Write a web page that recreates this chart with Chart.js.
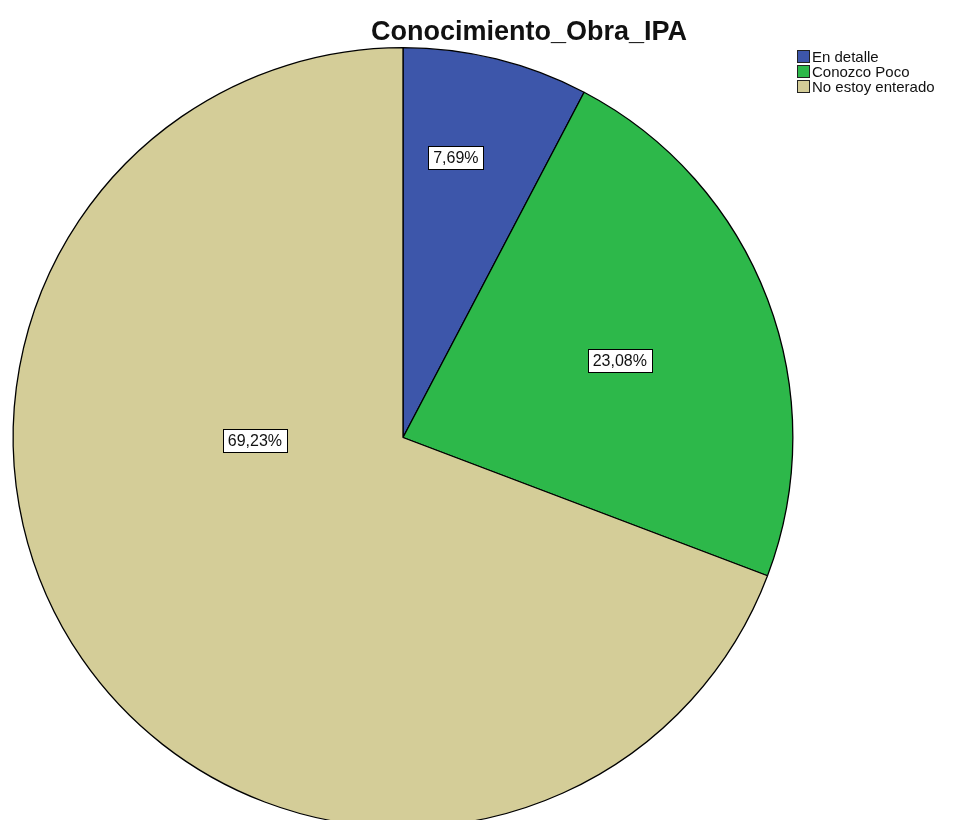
<!DOCTYPE html>
<html>
<head>
<meta charset="utf-8">
<script src="https://cdn.jsdelivr.net/npm/chart.js@4"></script>
<style>
  html, body { margin: 0; padding: 0; background: #fff; overflow: hidden; }
  #wrap { width: 973px; height: 820px; overflow: hidden; }
  canvas { display: block; }
</style>
</head>
<body>
<div id="wrap"><canvas id="chart" width="973" height="840"></canvas></div>
<script>
  const title = "Conocimiento_Obra_IPA"
  const categories = ["En detalle", "Conozco Poco", "No estoy enterado"]
  const percents = [7.69, 23.08, 69.23]
  const labelsText = ["7,69%", "23,08%", "69,23%"]
  const colors = ["#3d56aa", "#2db84a", "#d4cd98"]

  // where SPSS put each label: fraction of radius + angle from top (deg, clockwise)
  const labelSpots = [{f: 0.73, deg: 10.7}, {f: 0.59, deg: 70.5}, {f: 0.38, deg: 268.8}]

  const FONT = "'Liberation Sans', Arial, sans-serif"

  const extras = {
    id: 'extras',
    afterDraw(chart){
      const ctx = chart.ctx
      const arcs = chart.getDatasetMeta(0).data
      ctx.save()
      // title
      ctx.fillStyle = '#111'
      ctx.font = 'bold 27px ' + FONT
      ctx.textAlign = 'center'
      ctx.textBaseline = 'alphabetic'
      ctx.fillText(title, 529, 40)

      // slice labels
      ctx.font = '16px ' + FONT
      ctx.textBaseline = 'middle'
      arcs.forEach((a, i) => {
        const s = labelSpots[i]
        const ang = s.deg * Math.PI / 180
        const x = a.x + Math.sin(ang) * a.outerRadius * s.f
        const y = a.y - Math.cos(ang) * a.outerRadius * s.f
        const w = ctx.measureText(labelsText[i]).width + 10
        const h = 23
        const bx = Math.round(x - w/2) + 0.5, by = Math.round(y - h/2) + 0.5
        ctx.fillStyle = '#fff'
        ctx.fillRect(bx, by, Math.round(w), h)
        ctx.strokeStyle = '#000'
        ctx.lineWidth = 1
        ctx.strokeRect(bx, by, Math.round(w), h)
        ctx.fillStyle = '#111'
        ctx.textAlign = 'center'
        ctx.fillText(labelsText[i], x, y + 1)
      })

      // legend
      ctx.font = '15px ' + FONT
      ctx.textAlign = 'left'
      categories.forEach((c, i) => {
        const y = 57 + i * 15
        ctx.fillStyle = colors[i]
        ctx.fillRect(797.5, y - 6.5, 12, 12)
        ctx.strokeStyle = '#222'
        ctx.strokeRect(797.5, y - 6.5, 12, 12)
        ctx.fillStyle = '#111'
        ctx.fillText(c, 812, y + 1)
      })
      ctx.restore()
    }
  }

  const config = {
    type: 'pie',
    data: {
      labels: categories,
      datasets: [{
        data: percents,
        backgroundColor: colors,
        borderColor: '#000',
        borderWidth: 1.3
      }]
    },
    options: {
      responsive: false,
      animation: false,
      layout: { padding: { left: 12, right: 179, top: 47, bottom: 12 } },
      plugins: {
        legend: { display: false },
        tooltip: { enabled: false },
        title: { display: false }
      }
    },
    plugins: [extras]
  }

  const myChart = new Chart(document.getElementById('chart'), config)
</script>
</body>
</html>
